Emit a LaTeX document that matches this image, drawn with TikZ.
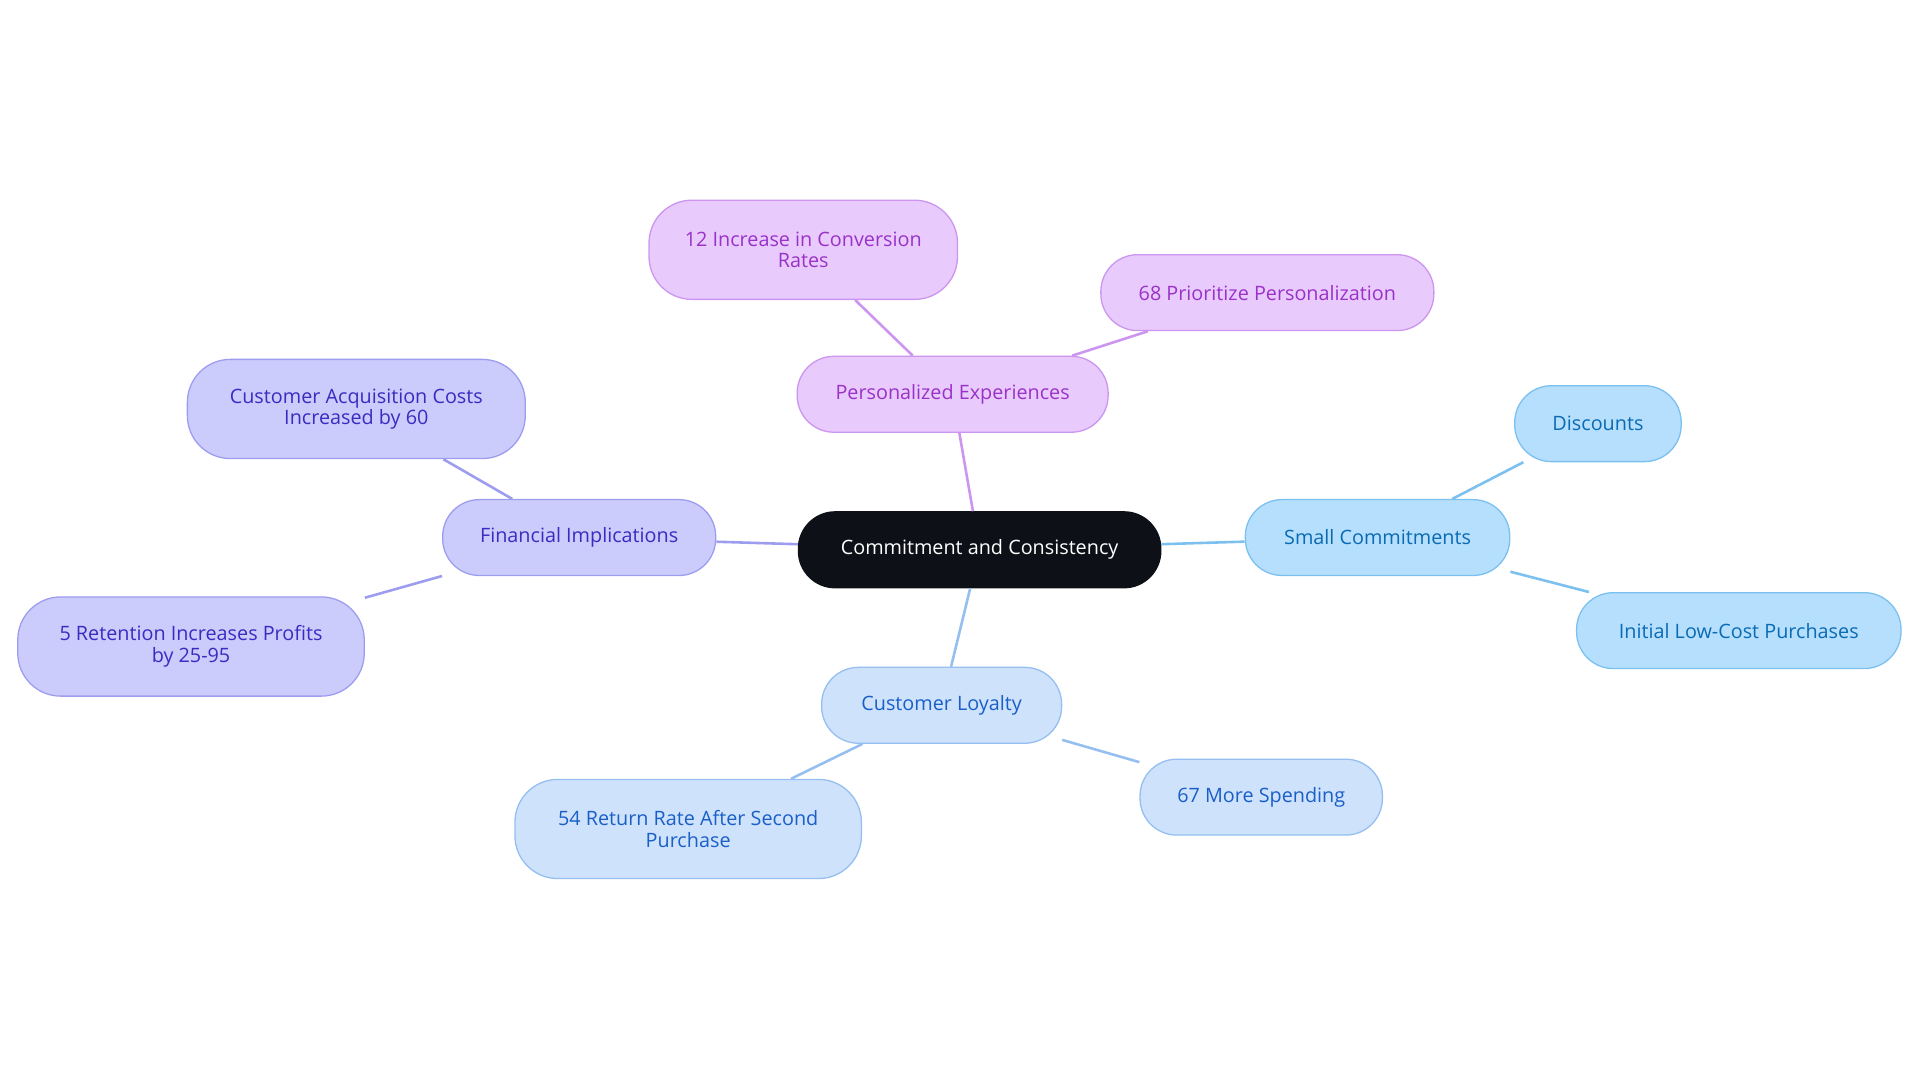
\documentclass[tikz,border=0pt]{standalone}
\usepackage{fontspec}
\setmainfont{Open Sans}
\definecolor{skyfill}{HTML}{B5DFFC}\definecolor{skyline}{HTML}{7CC0EF}\definecolor{skytext}{HTML}{0A6BB5}
\definecolor{bluefill}{HTML}{CFE2FB}\definecolor{blueline}{HTML}{94BFF0}\definecolor{bluetext}{HTML}{1A5FC8}
\definecolor{indfill}{HTML}{CBCBFC}\definecolor{indline}{HTML}{9D9DF0}\definecolor{indtext}{HTML}{3A2CC0}
\definecolor{purfill}{HTML}{E8CAFC}\definecolor{purline}{HTML}{CC95EF}\definecolor{purtext}{HTML}{9A32C8}
\definecolor{rootfill}{HTML}{0D1117}
\begin{document}
\begin{tikzpicture}[x=0.02cm,y=-0.02cm]
    % styles of the boxes
    \tikzset{
        box/.style={rounded corners=0.6cm, minimum height=1.24cm, align=center,
            font=\fontsize{9.2pt}{10pt}\selectfont, line width=0.6pt},
        sky/.style={box, fill=skyfill, draw=skyline, text=skytext},
        blu/.style={box, fill=bluefill, draw=blueline, text=bluetext},
        ind/.style={box, fill=indfill, draw=indline, text=indtext},
        pur/.style={box, fill=purfill, draw=purline, text=purtext},
        tall/.style={minimum height=1.62cm, rounded corners=0.7cm}
    }
    \useasboundingbox (0,0) rectangle (1568,884);

    % nodes
    \node[box, fill=rootfill, text=white, draw=rootfill, minimum width=5.92cm] (root) at (800,449) {Commitment and Consistency};
    \node[sky, minimum width=4.32cm] (small) at (1125,439) {Small Commitments};
    \node[sky, minimum width=2.72cm] (disc) at (1305,346) {Discounts};
    \node[sky, minimum width=5.30cm] (init) at (1420,515) {Initial Low-Cost Purchases};
    \node[blu, minimum width=3.92cm] (loyal) at (769,576) {Customer Loyalty};
    \node[blu, minimum width=3.96cm] (spend) at (1030,651) {67 More Spending};
    \node[blu, tall, minimum width=5.66cm] (ret) at (562,677) {54 Return Rate After Second\\Purchase};
    \node[ind, minimum width=4.46cm] (fin) at (473,439) {Financial Implications};
    \node[ind, tall, minimum width=5.52cm] (acq) at (291,334) {Customer Acquisition Costs\\Increased by 60};
    \node[ind, tall, minimum width=5.66cm] (five) at (156,528) {5 Retention Increases Profits\\by 25-95};
    \node[pur, minimum width=5.08cm] (pers) at (778,322) {Personalized Experiences};
    \node[pur, tall, minimum width=5.04cm] (conv) at (656,204) {12 Increase in Conversion\\Rates};
    \node[pur, minimum width=5.44cm] (prio) at (1035,239) {68 Prioritize Personalization};

    % connectors
    \begin{scope}[on background layer/.style={}, line width=1.2pt]
    \draw[skyline] (root) -- (small);
    \draw[skyline] (small) -- (disc);
    \draw[skyline] (small) -- (init);
    \draw[blueline] (root) -- (loyal);
    \draw[blueline] (loyal) -- (spend);
    \draw[blueline] (loyal) -- (ret);
    \draw[indline] (root) -- (fin);
    \draw[indline] (fin) -- (acq);
    \draw[indline] (fin) -- (five);
    \draw[purline] (root) -- (pers);
    \draw[purline] (pers) -- (conv);
    \draw[purline] (pers) -- (prio);
    \end{scope}
\end{tikzpicture}
\end{document}
